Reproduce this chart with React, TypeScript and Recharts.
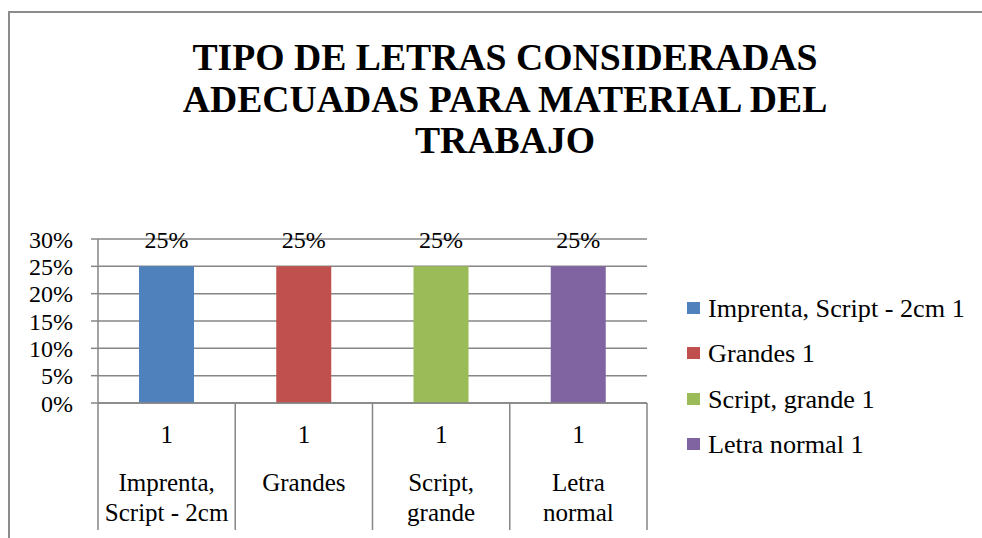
import { BarChart, Bar, XAxis, YAxis, CartesianGrid, Cell, LabelList } from 'recharts'

const TITLE_LINES = ['TIPO DE LETRAS CONSIDERADAS', 'ADECUADAS PARA MATERIAL DEL', 'TRABAJO']

// category labels as they wrap under the axis
const CATEGORY_LINES = [
    ['Imprenta,', 'Script - 2cm'],
    ['Grandes'],
    ['Script,', 'grande'],
    ['Letra', 'normal']
]
const CATEGORIES = CATEGORY_LINES.map(lines => lines.join(' '))
const SUB_LABEL = '1'
const VALUES = [0.25, 0.25, 0.25, 0.25]
const COLORS = ['#4F81BD', '#C0504D', '#9BBB59', '#8064A2']
const Y_TICKS = [0, 0.05, 0.1, 0.15, 0.2, 0.25, 0.3]

const FONT = "'Liberation Serif', serif"
const AXIS = '#868686'
const WIDTH = 982
const HEIGHT = 538
const MARGIN = { top: 239, right: 335, bottom: 8, left: 8 }
const Y_AXIS_W = 90
const X_AXIS_H = 127
const BAND = (WIDTH - MARGIN.left - MARGIN.right - Y_AXIS_W) / CATEGORIES.length

const pct = (v: number) => `${Math.round(v * 100)}%`

function CategoryTick(props: any) {
    const { x, y, index } = props
    const half = BAND / 2
    const lines = CATEGORY_LINES[index] ?? [props.payload?.value]
    const textProps = { textAnchor: 'middle' as const, fontSize: 25, fontFamily: FONT, fill: '#000' }
    return (
        <g>
            <line x1={x - half} x2={x - half} y1={y} y2={y + X_AXIS_H} stroke={AXIS} strokeWidth={1.5} />
            {index === CATEGORIES.length - 1 && (
                <line x1={x + half} x2={x + half} y1={y} y2={y + X_AXIS_H} stroke={AXIS} strokeWidth={1.5} />
            )}
            <text x={x} y={y + 40} {...textProps}>{SUB_LABEL}</text>
            {lines.map((line, i) => (
                <text key={i} x={x} y={y + 88 + i * 30} {...textProps}>{line}</text>
            ))}
        </g>
    )
}

export default function App() {
    const data = CATEGORIES.map((name, i) => ({ name, value: VALUES[i] }))

    return (
        <div style={{ position: 'absolute', left: 0, top: 0, width: WIDTH, height: HEIGHT, overflow: 'hidden', background: '#fff', fontFamily: FONT }}>
            <style>{`.chart-box svg text { font-family: ${FONT}; }`}</style>
            {/* chart frame, only top and left edges are visible */}
            <div style={{ position: 'absolute', left: 8, top: 11, width: 1000, height: 600, borderTop: '2px solid #8c8c8c', borderLeft: '2px solid #8c8c8c' }} />

            {TITLE_LINES.map((line, i) => (
                <div
                    key={i}
                    style={{
                        position: 'absolute', left: 105, width: 800, top: 37 + i * 41.5,
                        textAlign: 'center', whiteSpace: 'nowrap', fontFamily: FONT,
                        fontSize: 37.7, fontWeight: 'bold', lineHeight: '41px', color: '#000'
                    }}
                >
                    {line}
                </div>
            ))}

            <div className="chart-box" style={{ position: 'absolute', left: 0, top: 0 }}>
                <BarChart width={WIDTH} height={HEIGHT} data={data} margin={MARGIN}>
                    <CartesianGrid vertical={false} stroke={AXIS} strokeWidth={1.5} />
                    <XAxis
                        dataKey="name"
                        height={X_AXIS_H}
                        interval={0}
                        axisLine={{ stroke: AXIS, strokeWidth: 1.5 }}
                        tickLine={false}
                        tickSize={0}
                        tickMargin={0}
                        tick={<CategoryTick />}
                    />
                    <YAxis
                        width={Y_AXIS_W}
                        domain={[0, 0.3]}
                        ticks={Y_TICKS}
                        interval={0}
                        tickFormatter={pct}
                        axisLine={{ stroke: AXIS, strokeWidth: 1.5 }}
                        tickLine={{ stroke: AXIS, strokeWidth: 1.5 }}
                        tickSize={7}
                        tickMargin={18}
                        tick={{ fill: '#000', fontSize: 24, fontFamily: FONT }}
                    />
                    <Bar dataKey="value" barSize={55} isAnimationActive={false}>
                        {data.map((_, i) => (
                            <Cell key={`cell-${i}`} fill={COLORS[i]} />
                        ))}
                        <LabelList
                            dataKey="value"
                            position="top"
                            offset={18}
                            formatter={(v: any) => pct(Number(v))}
                            fill="#000"
                            fontSize={24}
                            fontFamily={FONT}
                        />
                    </Bar>
                </BarChart>
            </div>

            {/* legend: one entry per category */}
            <div style={{ position: 'absolute', left: 687, top: 286 }}>
                {CATEGORIES.map((name, i) => (
                    <div key={i} style={{ position: 'relative', height: 45.3, width: 290 }}>
                        <div style={{ position: 'absolute', left: 0, top: 16, width: 13, height: 12, background: COLORS[i] }} />
                        <div style={{ position: 'absolute', left: 21, top: 0, lineHeight: '45px', fontSize: 26.2, whiteSpace: 'nowrap', color: '#000' }}>
                            {name} {SUB_LABEL}
                        </div>
                    </div>
                ))}
            </div>
        </div>
    )
}
